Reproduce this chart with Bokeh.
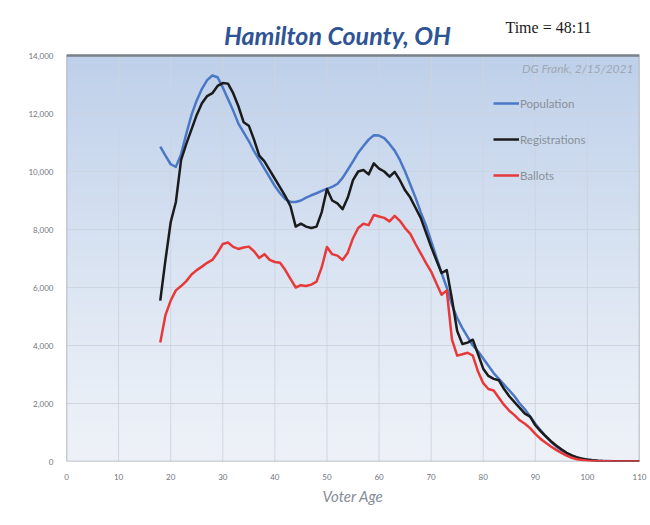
import numpy as np
from bokeh.plotting import figure
from bokeh.models import Label, Legend, LegendItem, Range1d, FixedTicker, Span, NumeralTickFormatter
from bokeh.embed import file_html
from bokeh.resources import INLINE

# ---------------- data ----------------
ages = list(range(18, 111))
population = [
    10860, 10550, 10250, 10160, 10600, 11300, 11950, 12450, 12850, 13150,
    13310, 13250, 12900, 12500, 12100, 11650, 11350, 11050, 10700, 10400,
    10100, 9800, 9500, 9250, 9050, 8950, 8950, 9000, 9100, 9180,
    9250, 9330, 9400, 9470, 9570, 9780, 10060, 10350, 10650, 10880,
    11100, 11250, 11240, 11150, 10950, 10720, 10400, 10000, 9550, 9100,
    8600, 8150, 7600, 7050, 6500, 6000, 5400, 4950, 4600, 4300,
    4000, 3800, 3550, 3300, 3050, 2850, 2650, 2450, 2250, 2000,
    1800, 1550, 1300, 1080, 870, 680, 520, 390, 280, 200,
    140, 95, 65, 45, 30, 20, 14, 10, 7, 5,
    3, 2, 1,
]
registrations = [
    5550, 6950, 8250, 8950, 10400, 10950, 11450, 11950, 12350, 12600,
    12700, 12950, 13050, 13030, 12700, 12250, 11700, 11580, 11100, 10550,
    10350, 10050, 9750, 9450, 9150, 8800, 8100, 8200, 8100, 8050,
    8100, 8600, 9400, 9000, 8900, 8700, 9100, 9700, 10000, 10050,
    9900, 10280, 10100, 10000, 9820, 9990, 9700, 9350, 9100, 8750,
    8400, 7900, 7400, 6950, 6500, 6600, 5600, 4500, 4050, 4100,
    4200, 3700, 3200, 2950, 2850, 2800, 2500, 2250, 2050, 1850,
    1650, 1550, 1250, 1050, 870, 700, 550, 420, 300, 210,
    140, 95, 60, 40, 25, 15, 10, 6, 4, 3,
    2, 1, 1,
]
ballots = [
    4100, 5050, 5550, 5900, 6050, 6220, 6450, 6600, 6720, 6850,
    6950, 7200, 7500, 7550, 7400, 7330, 7380, 7410, 7250, 7020,
    7150, 6950, 6880, 6850, 6600, 6300, 6000, 6080, 6050, 6100,
    6200, 6700, 7400, 7150, 7100, 6950, 7200, 7700, 8050, 8200,
    8150, 8500, 8450, 8400, 8280, 8470, 8300, 8050, 7850, 7500,
    7180, 6850, 6550, 6150, 5750, 5900, 4200, 3650, 3700, 3750,
    3650, 3100, 2700, 2500, 2450, 2200, 1950, 1750, 1600, 1420,
    1300, 1150, 950, 780, 650, 520, 400, 300, 200, 130,
    80, 50, 30, 20, 12, 8, 5, 3, 2, 1,
    1, 0, 0,
]
series_names = ["Population", "Registrations", "Ballots"]
x_ticks = [0, 10, 20, 30, 40, 50, 60, 70, 80, 90, 100, 110]
y_ticks = [0, 2000, 4000, 6000, 8000, 10000, 12000, 14000]
title_text = "Hamilton County, OH"
time_text = "Time = 48:11"
credit_text = "DG Frank, 2/15/2021"
x_label = "Voter Age"

# ---------------- figure ----------------
FONT = "Lato"
x0, x1 = x_ticks[0], x_ticks[-1]
y0, y1 = y_ticks[0], y_ticks[-1]

W, H = 650, 525
LEFT, RIGHT, BOTTOM = 66, 11, 64
AXIS_PX = 406                      # pixels between y=0 and y=14000
frame_h = H - BOTTOM
y_top = y1 * frame_h / AXIS_PX      # frame extends above the axis so titles fit inside it

p = figure(width=W, height=H, output_backend="svg", toolbar_location=None,
           x_range=Range1d(x0, x1), y_range=Range1d(y0, y_top),
           min_border_left=LEFT, min_border_right=RIGHT, min_border_top=0, min_border_bottom=BOTTOM)
p.border_fill_color = "white"
p.background_fill_color = "white"
p.outline_line_color = None

# vertical gradient background of the plot area
N = 200
top = np.array([190, 208, 234], dtype=float)
bot = np.array([238, 242, 248], dtype=float)
img = np.empty((N, 1), dtype=np.uint32)
view = img.view(dtype=np.uint8).reshape((N, 1, 4))
for i in range(N):
    t = (i / (N - 1)) ** 1.2
    c = bot + (top - bot) * t
    view[i, 0, 0] = int(c[0]); view[i, 0, 1] = int(c[1]); view[i, 0, 2] = int(c[2]); view[i, 0, 3] = 255
bg = p.image_rgba(image=[img], x=x0, y=y0, dw=x1 - x0, dh=y1 - y0)
bg.level = "image"

# grids: horizontal via ygrid, vertical drawn only inside the axis box
p.xgrid.visible = False
p.ygrid.ticker = FixedTicker(ticks=y_ticks)
p.ygrid.grid_line_color = "#cdd4df"
p.ygrid.grid_line_alpha = 0.9
p.segment(x0=x_ticks, y0=[y0] * len(x_ticks), x1=x_ticks, y1=[y1] * len(x_ticks),
          line_color="#cdd4df", line_alpha=0.9, line_width=1)

# axes
p.xaxis.ticker = FixedTicker(ticks=x_ticks)
p.yaxis.ticker = FixedTicker(ticks=y_ticks)
p.yaxis.formatter = NumeralTickFormatter(format="0,0")
for ax in (p.xaxis, p.yaxis):
    ax.axis_line_color = None
    ax.major_tick_line_color = None
    ax.minor_tick_line_color = None
    ax.major_tick_out = 0
    ax.major_tick_in = 0
    ax.major_label_text_font = FONT
    ax.major_label_text_font_size = "8px"
    ax.major_label_text_color = "#70757e"
p.xaxis.major_label_standoff = 12
p.yaxis.major_label_standoff = 13
p.xaxis.axis_label = x_label
p.xaxis.axis_label_text_font = FONT
p.xaxis.axis_label_text_font_style = "italic"
p.xaxis.axis_label_text_font_size = "15px"
p.xaxis.axis_label_text_color = "#868c96"
p.xaxis.axis_label_standoff = 4

# plot-area border
p.quad(left=x0, right=x1, bottom=y0, top=y1, fill_color=None,
       line_color="#a7adb6", line_width=1.5)
p.add_layout(Span(location=y1, dimension="width", line_color="#7c828b", line_width=2.5))

# lines
colors = ["#4a78c6", "#1b1b1b", "#e8393a"]
renderers = []
for name, ys, col in zip(series_names, [population, registrations, ballots], colors):
    r = p.line(ages, ys, line_color=col, line_width=2.5, line_join="round")
    renderers.append(r)

legend = Legend(items=[LegendItem(label=n, renderers=[r]) for n, r in zip(series_names, renderers)],
                location=(427, 276), orientation="vertical")
legend.label_text_font = FONT
legend.label_text_font_size = "11.5px"
legend.label_text_color = "#8a909a"
legend.glyph_width = 26
legend.glyph_height = 20
legend.label_height = 20
legend.spacing = 16
legend.padding = 0
legend.margin = 0
legend.label_standoff = 1
legend.background_fill_alpha = 0
legend.border_line_color = None
p.add_layout(legend)

# texts (screen units measured from the frame's bottom-left corner)
p.add_layout(Label(x=271, y=427, x_units="screen", y_units="screen", text=title_text,
                   text_font=FONT, text_font_style="bold italic", text_font_size="25px",
                   text_color="#2f5496", text_align="center", text_baseline="middle"))
p.add_layout(Label(x=482, y=434, x_units="screen", y_units="screen", text=time_text,
                   text_font="Liberation Serif", text_font_size="16px",
                   text_color="#1a1a1a", text_align="center", text_baseline="middle"))
p.add_layout(Label(x=567, y=393, x_units="screen", y_units="screen", text=credit_text,
                   text_font=FONT, text_font_style="italic", text_font_size="12px",
                   text_color="#a0a7b3", text_align="right", text_baseline="middle"))

open("out.html", "w").write(file_html(p, INLINE))
